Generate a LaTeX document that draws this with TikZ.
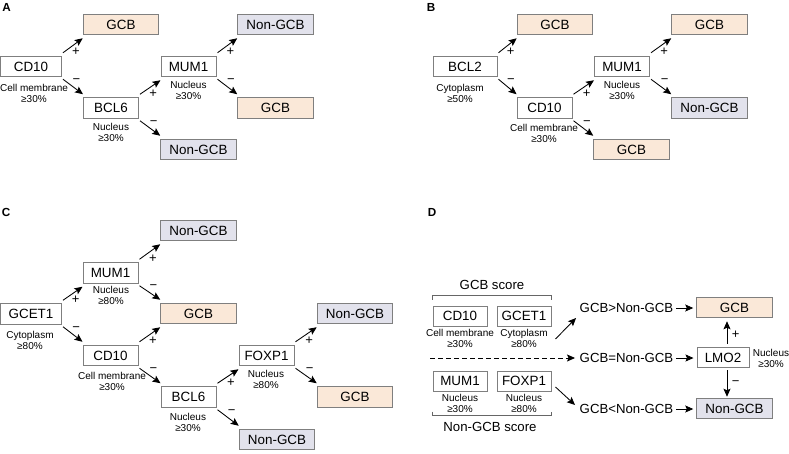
\documentclass[tikz,border=0pt]{standalone}
\usepackage{fontspec}
\setmainfont{Liberation Sans}
\usetikzlibrary{arrows.meta}
\definecolor{peach}{HTML}{FAE8D8}
\definecolor{lav}{HTML}{E2E2EC}
\definecolor{bord}{HTML}{7F7F7F}
\begin{document}
\begin{tikzpicture}[x=1pt,y=-1pt,
  box/.style={draw=bord, line width=1pt, fill=white, minimum height=20.5pt, minimum width=55pt,
    inner sep=0pt, text height=9.6pt, text depth=0pt, font=\fontsize{13.4}{13.4}\selectfont},
  gcb/.style={box, fill=peach, minimum width=75.5pt},
  ngcb/.style={box, fill=lav, minimum width=75.5pt},
  dbox/.style={box, minimum width=54pt, minimum height=20pt},
  lab/.style={font=\fontsize{10}{11}\selectfont, align=center, inner sep=0pt},
  txt/.style={font=\fontsize{13.2}{13.2}\selectfont, inner sep=0pt},
  panel/.style={font=\fontsize{11.7}{12}\selectfont\bfseries, inner sep=0pt},
  arr/.style={-{Stealth[length=8pt,width=7pt,inset=1.5pt]}, line width=0.85pt},
  sign/.style={font=\fontsize{13}{13}\selectfont, inner sep=0pt},
  pl/.style={sign, midway, xshift=3pt, yshift=-6.5pt},
  mi/.style={sign, midway, xshift=3.5pt, yshift=5.5pt},
  brk/.style={draw=bord!80!black, line width=0.9pt},
]
\useasboundingbox (0,0) rectangle (789,453);

% ---------------- Panel A ----------------
\node[panel] (pa) at (6.7,7.5) {A};
\node[box, minimum width=61pt] (acd10) at (31,66.5) {CD10};
\node[gcb] (agcb1) at (121,24.5) {GCB};
\node[box] (abcl6) at (111,108) {BCL6};
\node[box] (amum1) at (188.5,66.5) {MUM1};
\node[ngcb] (angcb1) at (275.5,24.5) {Non-GCB};
\node[gcb] (agcb2) at (275.5,108) {GCB};
\node[ngcb] (angcb2) at (198.5,149.5) {Non-GCB};
\node[lab] (lacd10) at (34,93) {Cell membrane\\≥30\%};
\node[lab] (labcl6) at (111,132) {Nucleus\\≥30\%};
\node[lab] (lamum1) at (188.5,90) {Nucleus\\≥30\%};
\draw[arr] ([shift={(1,-3)}]acd10.north east) -- node[pl]{+} ([shift={(0,3)}]agcb1.south west);
\draw[arr] ([shift={(1,2)}]acd10.south east) -- node[mi]{−} ([shift={(0,-3)}]abcl6.north west);
\draw[arr] ([shift={(1,-3)}]abcl6.north east) -- node[pl]{+} ([shift={(0,3)}]amum1.south west);
\draw[arr] ([shift={(1,2)}]abcl6.south east) -- node[mi]{−} ([shift={(0,-3)}]angcb2.north west);
\draw[arr] ([shift={(1,-3)}]amum1.north east) -- node[pl]{+} ([shift={(0,3)}]angcb1.south west);
\draw[arr] ([shift={(1,2)}]amum1.south east) -- node[mi]{−} ([shift={(0,-3)}]agcb2.north west);

% ---------------- Panel B ----------------
\node[panel] (pb) at (431,7.5) {B};
\node[box, minimum width=64pt] (bbcl2) at (465,66.5) {BCL2};
\node[gcb] (bgcb1) at (555,24.5) {GCB};
\node[box] (bcd10) at (544.5,108) {CD10};
\node[box] (bmum1) at (622,66.5) {MUM1};
\node[gcb] (bgcb2) at (709.5,24.5) {GCB};
\node[ngcb] (bngcb) at (709.5,108) {Non-GCB};
\node[gcb] (bgcb3) at (631.5,149.5) {GCB};
\node[lab] (lbbcl2) at (460,93) {Cytoplasm\\≥50\%};
\node[lab] (lbcd10) at (544,133.5) {Cell membrane\\≥30\%};
\node[lab] (lbmum1) at (622,90) {Nucleus\\≥30\%};
\draw[arr] ([shift={(1,-3)}]bbcl2.north east) -- node[pl]{+} ([shift={(0,3)}]bgcb1.south west);
\draw[arr] ([shift={(1,2)}]bbcl2.south east) -- node[mi]{−} ([shift={(0,-3)}]bcd10.north west);
\draw[arr] ([shift={(1,-3)}]bcd10.north east) -- node[pl]{+} ([shift={(0,3)}]bmum1.south west);
\draw[arr] ([shift={(1,2)}]bcd10.south east) -- node[mi]{−} ([shift={(0,-3)}]bgcb3.north west);
\draw[arr] ([shift={(1,-3)}]bmum1.north east) -- node[pl]{+} ([shift={(0,3)}]bgcb2.south west);
\draw[arr] ([shift={(1,2)}]bmum1.south east) -- node[mi]{−} ([shift={(0,-3)}]bngcb.north west);

% ---------------- Panel C ----------------
\node[panel] (pc) at (6,212.5) {C};
\node[ngcb] (cngcb1) at (198.5,230.5) {Non-GCB};
\node[box] (cmum1) at (110.5,273) {MUM1};
\node[gcb] (cgcb1) at (198.5,313.5) {GCB};
\node[box, minimum width=61pt] (cgcet1) at (31,314) {GCET1};
\node[box] (ccd10) at (110.5,355.5) {CD10};
\node[box] (cbcl6) at (188.5,397) {BCL6};
\node[box] (cfoxp1) at (266.5,355.5) {FOXP1};
\node[ngcb] (cngcb2) at (355,313.5) {Non-GCB};
\node[gcb] (cgcb2) at (355,397) {GCB};
\node[ngcb] (cngcb3) at (277,439.5) {Non-GCB};
\node[lab] (lcmum1) at (111,295.5) {Nucleus\\≥80\%};
\node[lab] (lcgcet1) at (30,340.5) {Cytoplasm\\≥80\%};
\node[lab] (lccd10) at (112,381.5) {Cell membrane\\≥30\%};
\node[lab] (lcbcl6) at (188,422.5) {Nucleus\\≥30\%};
\node[lab] (lcfoxp1) at (266,379.5) {Nucleus\\≥80\%};
\draw[arr] ([shift={(1,-3)}]cgcet1.north east) -- node[pl]{+} ([shift={(0,3)}]cmum1.south west);
\draw[arr] ([shift={(1,2)}]cgcet1.south east) -- node[mi]{−} ([shift={(0,-3)}]ccd10.north west);
\draw[arr] ([shift={(1,-3)}]cmum1.north east) -- node[pl]{+} ([shift={(0,3)}]cngcb1.south west);
\draw[arr] ([shift={(1,2)}]cmum1.south east) -- node[mi]{−} ([shift={(0,-3)}]cgcb1.north west);
\draw[arr] ([shift={(1,-3)}]ccd10.north east) -- node[pl]{+} ([shift={(0,3)}]cgcb1.south west);
\draw[arr] ([shift={(1,2)}]ccd10.south east) -- node[mi]{−} ([shift={(0,-3)}]cbcl6.north west);
\draw[arr] ([shift={(1,-3)}]cbcl6.north east) -- node[pl]{+} ([shift={(0,3)}]cfoxp1.south west);
\draw[arr] ([shift={(1,2)}]cbcl6.south east) -- node[mi]{−} ([shift={(0,-3)}]cngcb3.north west);
\draw[arr] ([shift={(1,-3)}]cfoxp1.north east) -- node[pl]{+} ([shift={(0,3)}]cngcb2.south west);
\draw[arr] ([shift={(1,2)}]cfoxp1.south east) -- node[mi]{−} ([shift={(0,-3)}]cgcb2.north west);

% ---------------- Panel D ----------------
\node[panel] (pd) at (432,212) {D};
\node[txt] (gscore) at (492,285) {GCB score};
\node[dbox] (dcd10) at (460,316) {CD10};
\node[dbox] (dgcet) at (524,316) {GCET1};
\node[dbox] (dmum1) at (460,381) {MUM1};
\node[dbox] (dfoxp) at (524,381) {FOXP1};
\node[txt] (nscore) at (490,427) {Non-GCB score};
\node[lab] (ldcd10) at (460,338.5) {Cell membrane\\≥30\%};
\node[lab] (ldgcet) at (524,338.5) {Cytoplasm\\≥80\%};
\node[lab] (ldmum1) at (460,403.5) {Nucleus\\≥30\%};
\node[lab] (ldfoxp) at (524,403.5) {Nucleus\\≥80\%};
\draw[brk] ([shift={(0,-6)}]dcd10.north west) -- ([shift={(0,-10)}]dcd10.north west)
  -- ([shift={(0,-10)}]dgcet.north east) -- ([shift={(0,-6)}]dgcet.north east);
\draw[brk] ([shift={(0,20)}]dmum1.south west) -- ([shift={(0,24)}]dmum1.south west)
  -- ([shift={(0,24)}]dfoxp.south east) -- ([shift={(0,20)}]dfoxp.south east);

\node[txt] (t1) at (626.5,308) {GCB>Non-GCB};
\node[txt] (t2) at (626.5,358) {GCB=Non-GCB};
\node[txt] (t3) at (626.5,409) {GCB<Non-GCB};
\node[gcb] (dgcb) at (734.5,307.5) {GCB};
\node[box, minimum width=52pt] (dlmo2) at (723,357.5) {LMO2};
\node[ngcb] (dngcb) at (734.5,408.5) {Non-GCB};
\node[lab] (ldlmo2) at (771,358.5) {Nucleus\\≥30\%};

\coordinate (dstart) at (430,358);
\draw[arr, dash pattern=on 5pt off 3pt] (dstart) -- ([xshift=-4.5pt]t2.west);
\draw[arr] ([shift={(4,23)}]dgcet.east) -- ([shift={(-3.5,10)}]t1.west);
\draw[arr] ([shift={(4,6)}]dfoxp.east) -- ([shift={(-4.5,-4)}]t3.west);
\draw[arr] ([xshift=3pt]t1.east) -- ([xshift=-3pt]t1.east -| dgcb.west);
\draw[arr] ([xshift=3pt]t2.east) -- ([xshift=-3pt]t2.east -| dlmo2.west);
\draw[arr] ([xshift=3pt]t3.east) -- ([xshift=-3pt]t3.east -| dngcb.west);
\path (dlmo2.north |- dgcb.south) coordinate (u1);
\path (dlmo2.south |- dngcb.north) coordinate (u2);
\draw[arr] ([shift={(4,-3)}]dlmo2.north) -- node[sign, anchor=west, xshift=4.5pt, yshift=-2pt]{+} ([shift={(4,3)}]u1);
\draw[arr] ([shift={(4,2)}]dlmo2.south) -- node[sign, anchor=west, xshift=4.5pt]{−} ([shift={(4,-1)}]u2);
\end{tikzpicture}
\end{document}
